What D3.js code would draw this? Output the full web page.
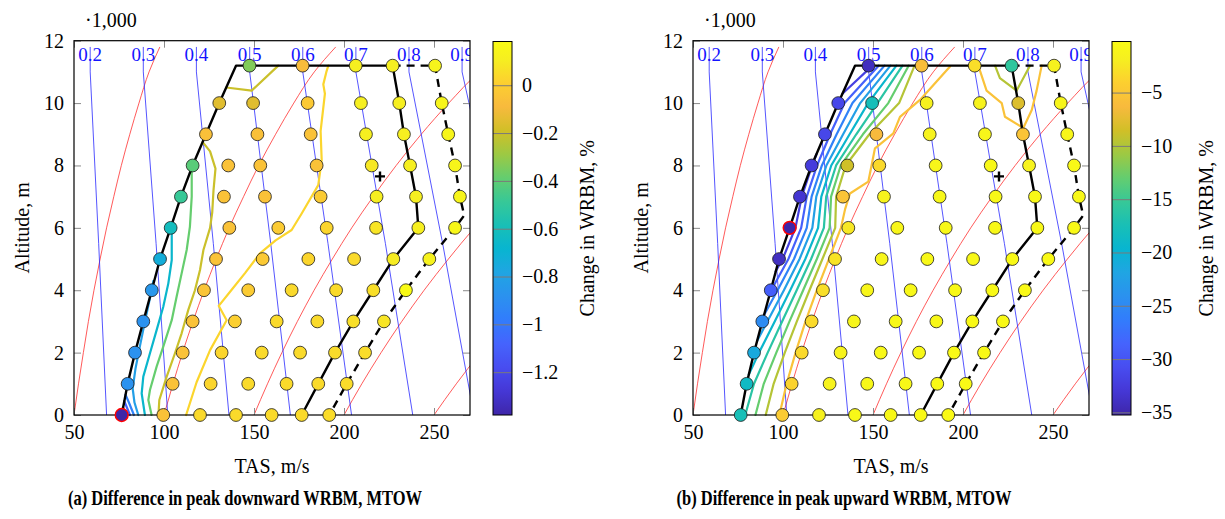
<!DOCTYPE html>
<html>
<head>
<meta charset="utf-8">
<script src="https://cdn.jsdelivr.net/npm/d3@7"></script>
<style>
  body { margin: 0; background: #fff; }
  svg text { font-family: "Liberation Serif", "Times New Roman", serif; }
</style>
</head>
<body>
<svg id="chart" width="1225" height="519"></svg>
<script>
// ---------- flight-envelope grid (TAS in m/s, altitude in km) ----------
const altitudes = [0, 1, 2, 3, 4, 5, 6, 7, 8, 9, 10, 11.2];
const gridTAS = [
  [76.5, 99.6, 120, 140, 159.8, 176.5, 191.8],
  [79.8, 104.8, 125.9, 146.8, 168.1, 185.7, 201.5],
  [83.9, 110.4, 132, 154.3, 175.6, 195, 211.7],
  [88.5, 115.9, 139.4, 162.6, 185.2, 205.2, 222.2],
  [93.2, 122.2, 146.8, 170.9, 195.6, 216.3, 234.4],
  [97.8, 128.9, 154.8, 180.2, 205.6, 227.4, 247.4],
  [103.7, 136.3, 163.5, 190.4, 217.8, 241.3, 261.7],
  [109.4, 133.3, 156.1, 187, 218.1, 240, 264.4],
  [115.9, 135.7, 153.5, 184.8, 215.4, 236.7, 261.7],
  [123.3, 151.9, 181.5, 212.2, 233.3, 257.9],
  [130.7, 149.5, 179.8, 209.4, 230.7, 254.3],
  [147.5, 177, 206.5, 227, 250.6]
];

// change in peak downward WRBM, % (same grid order)
const downChange = [
  [-1.377, -0.05, 0.04, 0.045, 0.045, 0.045, 0.05],
  [-0.88, -0.05, 0.03, 0.045, 0.045, 0.045, 0.05],
  [-0.88, -0.05, 0.03, 0.045, 0.045, 0.05, 0.05],
  [-0.88, -0.05, 0.01, 0.045, 0.045, 0.06, 0.08],
  [-0.85, -0.04, -0.01, 0.04, 0.045, 0.06, 0.185],
  [-0.73, -0.05, -0.02, 0.03, 0.045, 0.1, 0.13],
  [-0.61, -0.05, -0.01, 0.03, 0.08, 0.11, 0.16],
  [-0.485, -0.05, -0.05, -0.01, 0.11, 0.11, 0.15],
  [-0.41, -0.05, -0.05, -0.05, 0.09, 0.11, 0.15],
  [-0.06, -0.06, -0.05, 0.11, 0.11, 0.15],
  [-0.15, -0.15, -0.02, 0.11, 0.11, 0.15],
  [-0.335, -0.08, 0.11, 0.11, 0.14]
];

// change in peak upward WRBM, %
const upChange = [
  [-17.5, -4.5, -1.5, -0.6, -0.5, -0.4, -0.4],
  [-18.5, -3.8, -1.3, -0.6, -0.5, -0.4, -0.4],
  [-21.2, -3.4, -1.2, -0.6, -0.5, -0.4, -0.4],
  [-24.7, -3.3, -1.0, -0.6, -0.5, -0.4, -0.4],
  [-29.0, -3.0, -0.9, -0.6, -0.5, -0.4, -0.4],
  [-34.0, -2.7, -0.9, -0.6, -0.5, -0.4, -0.4],
  [-35.2, -2.4, -0.8, -0.6, -0.5, -0.5, -0.4],
  [-33.2, -5.2, -1.3, -0.6, -0.5, -0.5, -0.5],
  [-32.4, -8.6, -3.4, -1.0, -0.6, -1.3, -0.5],
  [-31.3, -6.3, -1.3, -1.0, -5.2, -0.8],
  [-31.3, -17.7, -1.5, -1.2, -7.9, -1.0],
  [-34.1, -6.0, -3.0, -15.7, -1.5]
];

// envelope boundaries [TAS, altitude]
const envelopeSolid = [[76.5,0],[79.8,1],[83.9,2],[88.5,3],[93.2,4],[97.8,5],[103.7,6],[109.4,7],[115.9,8],[123.3,9],[130.7,10],[140,11.2],[227,11.2],[230.7,10],[233.3,9],[236.7,8],[240,7],[241.3,6],[227.4,5],[216.3,4],[205.2,3],[195,2],[185.7,1],[176.5,0]];
const envelopeDashed = [[227,11.2],[250.6,11.2],[254.3,10],[257.9,9],[261.7,8],[264.4,7],[266.8,6.4],[261.7,6],[247.4,5],[234.4,4],[222.2,3],[211.7,2],[201.5,1],[191.8,0]];
const referencePoint = [220, 7.65];

// constant-Mach guide lines
const machNumbers = [0.2, 0.3, 0.4, 0.5, 0.6, 0.7, 0.8, 0.9];
const machAlt = [0, 5.5, 11, 11.8];
const machTAS = [
  [68.1, 63.7, 59.0, 59.0],
  [102.1, 95.6, 88.5, 88.5],
  [136.1, 127.4, 118.0, 118.0],
  [170.2, 159.3, 147.6, 147.6],
  [204.2, 191.1, 177.1, 177.1],
  [238.2, 223.0, 206.6, 206.6],
  [272.2, 254.8, 236.1, 236.1],
  [306.3, 286.7, 265.6, 265.6]
];
const machLabelAlt = 11.55;

// constant-EAS guide lines
const easAlt = [0, 1, 2, 3, 4, 5, 6, 7, 8, 9, 10, 11, 11.8];
const easTAS = [
  [50, 52.5, 55.2, 58.0, 61.1, 64.5, 68.1, 72.1, 76.3, 81.0, 86.1, 91.7, 97.7],
  [100, 105.0, 110.3, 116.1, 122.3, 129.0, 136.2, 144.2, 152.6, 162.0, 172.1, 183.5, 195.4],
  [150, 157.5, 165.5, 174.1, 183.4, 193.5, 204.3, 216.2, 229.0, 242.9, 258.2, 275.2, 293.1],
  [200, 209.9, 220.6, 232.1, 244.5, 258.0, 272.4, 288.3, 305.3, 323.9, 344.2, 366.9, 390.8],
  [250, 262.4, 275.8, 290.2, 305.7, 322.5, 340.6, 360.4, 381.6, 404.9, 430.3, 458.7, 488.5]
];

// iso-lines of the change, [level, [[TAS, alt], ...]]
const downContours = [
  [-1.235, [[77.2,0.25],[78.4,0]]],
  [-1.093, [[77.9,0.45],[81.1,0]]],
  [-0.951, [[78.6,0.65],[80.5,0.4],[83.3,0]]],
  [-0.809, [[94.1,4.3],[92.2,3.75],[89.4,3.0],[86.6,2.2],[84.2,1.5],[82.6,0.85],[83.6,0.4],[85.7,0]]],
  [-0.667, [[104.3,5.85],[104.3,4.97],[102.4,4.22],[99.6,3.47],[95.9,2.72],[92.2,1.98],[88.5,1.23],[87.6,0.69],[89.4,0]]],
  [-0.383, [[115.4,7.85],[115.4,7.0],[114.4,6.04],[112.6,5.29],[109.8,4.54],[107,3.79],[104.3,3.04],[99.6,2.19],[95.9,1.55],[92.2,0.8],[91.3,0.48],[93.1,0]]],
  [-0.2, [[121.5,8.75],[125.6,8.45],[128.6,7.9],[127.5,7.2],[126.8,6.5],[125.6,6.0],[121.9,5.29],[120,4.65],[117.2,4.0],[113.5,3.37],[109.8,2.62],[106.1,1.98],[101.5,1.23],[97.4,0.48],[96.9,0]]],
  [-0.2, [[134.6,10.5],[148.7,10.4],[163.5,11.2]]],
  [0.03, [[112.3,0],[118.1,1.05],[125.6,2.08],[134.8,3.04],[130.4,3.5],[136.7,3.95],[145,4.55],[153.3,5.18],[162,5.6],[170.9,5.93],[176.5,6.46],[185.7,7.37],[187.6,8.17],[187,9.1],[189.4,10.3],[188.5,10.6],[190.2,11.0],[191.3,11.2]]]
];

const upContours = [
  [-32.0, [[95.9,4.6],[99.8,5],[106.9,6],[110.4,7],[116.2,8],[118.6,8.36]]],
  [-32.0, [[133,10.3],[149.7,11.2]]],
  [-28.8, [[93,3.95],[103,5],[110.1,6],[113.2,7],[118.9,8],[126.2,9],[134.2,10],[153.1,11.2]]],
  [-25.6, [[89.4,3.2],[97,4],[106.1,5],[113.2,6],[115.9,7],[121.6,8],[129.8,9],[138.6,10],[156.4,11.2]]],
  [-22.5, [[85.6,2.37],[91.3,3],[100.5,4],[109.2,5],[116.3,6],[118.5,7],[124.1,8],[133.4,9],[142.9,10],[159.7,11.2]]],
  [-19.3, [[81,1.3],[86.7,2],[95.4,3],[104,4],[112.4,5],[119.5,6],[121.3,7],[126.8,8],[137,9],[147.3,10],[163,11.2]]],
  [-16.1, [[79,0],[83.9,1],[91.5,2],[99.5,3],[107.6,4],[115.6,5],[122.7,6],[124,7],[129.5,8],[140.7,9],[152.5,10],[166.4,11.2]]],
  [-12.9, [[84.7,0],[89.3,1],[96.3,2],[103.6,3],[111.2,4],[118.8,5],[125.9,6],[126.7,7],[132.1,8],[144.4,9],[158.5,10],[169.8,11.2]]],
  [-9.7, [[90.4,0],[94.8,1],[101,2],[107.7,3],[114.7,4],[121.9,5],[129,6],[129.5,7],[134.8,8],[148,9],[164.5,10],[173.1,11.2]]],
  [-9.7, [[217.8,11.2],[220.5,10.8],[229.8,10.4],[237.2,11.2]]],
  [-5.5, [[98,0],[102,1],[107,2],[112.5,3],[118.8,4],[125.5,5],[132.2,6],[134.5,6.6],[137.2,7.1],[147.4,7.48],[151.1,8.55],[161.3,9.03],[165,9.56],[176.1,10.1],[192.8,11.17]]],
  [-5.5, [[208.5,11.2],[213.1,10.4],[221.5,10.0],[223.3,9.56],[233.5,9.2],[238.2,9.78],[240.9,10.4],[243.7,11.2]]]
];

// colour-bar ranges and ticks
const downRange = [-1.377, 0.185];
const upRange = [-35.2, -0.16];
const downBarTicks = [0, -0.2, -0.4, -0.6, -0.8, -1, -1.2];
const upBarTicks = [-5, -10, -15, -20, -25, -30, -35];
const xTicks = [50, 100, 150, 200, 250];
const yTicks = [0, 2, 4, 6, 8, 10, 12];

// parula colour map (sampled)
const parulaIdx = [0, 4, 8, 12, 16, 20, 24, 28, 32, 36, 40, 44, 48, 52, 56, 60, 63];
const parulaRGB = [
  [0.2422,0.1504,0.6603],[0.2706,0.2147,0.8364],[0.2813,0.3006,0.9414],[0.2699,0.3892,0.9906],
  [0.1963,0.4847,0.9892],[0.1687,0.5703,0.9359],[0.1248,0.6459,0.8883],[0.0297,0.7082,0.8163],
  [0.0964,0.7500,0.7120],[0.2161,0.7843,0.5923],[0.3909,0.8029,0.4354],[0.6174,0.7876,0.2612],
  [0.8203,0.7498,0.1535],[0.9728,0.7298,0.2394],[0.9892,0.8136,0.1885],[0.9628,0.9373,0.1265],
  [0.9769,0.9839,0.0805]
];
const parula = d3.scaleLinear()
  .domain(parulaIdx.map(i => i / 63))
  .range(parulaRGB.map(c => d3.rgb(c[0] * 255, c[1] * 255, c[2] * 255)))
  .interpolate(d3.interpolateRgb)
  .clamp(true);

const svg = d3.select("#chart");
const defs = svg.append("defs");
const y = d3.scaleLinear().domain([0, 12]).range([415, 40.7]);
const minus = v => String(v).replace("-", "\u2212");

const panels = [
  { key: "a", xr: [74, 470], values: downChange, contours: downContours, range: downRange,
    barX: 493, barTicks: downBarTicks, title: "(a) Difference in peak downward WRBM, MTOW",
    titleX: 245, titleW: 354 },
  { key: "b", xr: [693, 1089], values: upChange, contours: upContours, range: upRange,
    barX: 1112, barTicks: upBarTicks, title: "(b) Difference in peak upward WRBM, MTOW",
    titleX: 844, titleW: 335 }
];

panels.forEach(p => {
  const x = d3.scaleLinear().domain([50, 270]).range(p.xr);
  const norm = d3.scaleLinear().domain(p.range).range([0, 1]);
  const colour = v => parula(norm(v));
  const g = svg.append("g");
  const clipId = "clip-" + p.key;
  defs.append("clipPath").attr("id", clipId).append("rect")
    .attr("x", p.xr[0]).attr("y", y(12)).attr("width", p.xr[1] - p.xr[0]).attr("height", y(0) - y(12));

  const line = d3.line().x(d => x(d[0])).y(d => y(d[1]));
  const smooth = d3.line().x(d => x(d[0])).y(d => y(d[1])).curve(d3.curveMonotoneY);
  const guides = g.append("g").attr("clip-path", `url(#${clipId})`);

  // constant EAS lines
  easTAS.forEach(row => {
    guides.append("path").datum(row.map((t, i) => [t, easAlt[i]]))
      .attr("d", smooth).attr("fill", "none")
      .attr("stroke", "#ff3030").attr("stroke-width", 0.8);
  });
  // constant Mach lines with labels
  machTAS.forEach((row, i) => {
    guides.append("path").datum(row.map((t, j) => [t, machAlt[j]]))
      .attr("d", line).attr("fill", "none")
      .attr("stroke", "#2a2aff").attr("stroke-width", 0.8);
    guides.append("text")
      .attr("x", x(row[2])).attr("y", y(machLabelAlt))
      .attr("text-anchor", "middle").attr("dominant-baseline", "central")
      .attr("font-size", 19).attr("fill", "#1414ff")
      .text(machNumbers[i].toFixed(1));
  });

  // iso-lines
  g.append("g").selectAll("path").data(p.contours).join("path")
    .attr("d", d => line(d[1])).attr("fill", "none")
    .attr("stroke", d => colour(d[0])).attr("stroke-width", 2.2)
    .attr("stroke-linejoin", "round").attr("stroke-linecap", "round");

  // envelope
  g.append("path").datum(envelopeSolid).attr("d", line).attr("fill", "none")
    .attr("stroke", "#000").attr("stroke-width", 2.4).attr("stroke-linejoin", "round");
  g.append("path").datum(envelopeDashed).attr("d", line).attr("fill", "none")
    .attr("stroke", "#000").attr("stroke-width", 2.4).attr("stroke-dasharray", "8,6");

  // frame and ticks
  const axes = g.append("g");
  const tickStyle = sel => {
    sel.select(".domain").remove();
    sel.selectAll(".tick line").attr("stroke", "#8a8a8a").attr("stroke-width", 1);
    sel.selectAll("text").attr("font-size", 20).attr("fill", "#000")
      .attr("font-family", "Liberation Serif, Times New Roman, serif");
  };
  axes.append("g").attr("transform", `translate(0,${y(0)})`)
    .call(d3.axisBottom(x).tickValues(xTicks).tickSize(-7).tickPadding(10).tickFormat(d3.format("d")))
    .call(tickStyle);
  axes.append("g").attr("transform", `translate(0,${y(12)})`)
    .call(d3.axisTop(x).tickValues(xTicks).tickSize(-7).tickFormat(""))
    .call(tickStyle);
  axes.append("g").attr("transform", `translate(${p.xr[0]},0)`)
    .call(d3.axisLeft(y).tickValues(yTicks).tickSize(-7).tickPadding(10).tickFormat(d3.format("d")))
    .call(tickStyle);
  axes.append("g").attr("transform", `translate(${p.xr[1]},0)`)
    .call(d3.axisRight(y).tickValues(yTicks).tickSize(-7).tickFormat(""))
    .call(tickStyle);
  axes.append("rect").attr("x", p.xr[0]).attr("y", y(12))
    .attr("width", p.xr[1] - p.xr[0]).attr("height", y(0) - y(12))
    .attr("fill", "none").attr("stroke", "#000").attr("stroke-width", 1.2);

  // grid points coloured by the change
  const pts = [];
  gridTAS.forEach((row, r) => row.forEach((t, c) => pts.push({ t, h: altitudes[r], v: p.values[r][c] })));
  const vMin = d3.min(pts, d => d.v);
  g.append("g").selectAll("circle").data(pts).join("circle")
    .attr("cx", d => x(d.t)).attr("cy", d => y(d.h)).attr("r", 6.4)
    .attr("fill", d => colour(d.v))
    .attr("stroke", d => d.v === vMin ? "#ff0000" : "#1a1a1a")
    .attr("stroke-width", d => d.v === vMin ? 1.5 : 0.8);

  // reference point
  const rp = [x(referencePoint[0]), y(referencePoint[1])];
  g.append("path").attr("d", `M${rp[0] - 5},${rp[1]}H${rp[0] + 5}M${rp[0]},${rp[1] - 5}V${rp[1] + 5}`)
    .attr("stroke", "#000").attr("stroke-width", 2.4);

  // axis titles
  g.append("text").attr("x", p.xr[0] + 11).attr("y", 26.5).attr("font-size", 20).text("\u00b71,000");
  g.append("text").attr("x", (p.xr[0] + p.xr[1]) / 2).attr("y", 473)
    .attr("text-anchor", "middle").attr("font-size", 20).text("TAS, m/s");
  g.append("text").attr("transform", `translate(${p.xr[0] - 45},${(y(0) + y(12)) / 2}) rotate(-90)`)
    .attr("text-anchor", "middle").attr("font-size", 20).text("Altitude, m");
  g.append("text").attr("x", p.titleX).attr("y", 505).attr("text-anchor", "middle")
    .attr("font-size", 21).attr("font-weight", "bold")
    .attr("textLength", p.titleW).attr("lengthAdjust", "spacingAndGlyphs").text(p.title);

  // colour bar
  const bar = d3.scaleLinear().domain(p.range).range([415, 41.5]);
  const gradId = "grad-" + p.key;
  const grad = defs.append("linearGradient").attr("id", gradId)
    .attr("x1", 0).attr("y1", 1).attr("x2", 0).attr("y2", 0);
  d3.range(0, 1.0001, 1 / 63).forEach(t => {
    grad.append("stop").attr("offset", t).attr("stop-color", parula(t));
  });
  const bw = 19;
  g.append("rect").attr("x", p.barX).attr("y", bar(p.range[1])).attr("width", bw)
    .attr("height", bar(p.range[0]) - bar(p.range[1])).attr("fill", `url(#${gradId})`);
  p.barTicks.forEach(v => {
    g.append("line").attr("x1", p.barX).attr("x2", p.barX + bw).attr("y1", bar(v)).attr("y2", bar(v))
      .attr("stroke", "#7a7a7a").attr("stroke-width", 1);
    g.append("text").attr("x", p.barX + 29).attr("y", bar(v)).attr("dy", "0.32em")
      .attr("font-size", 20).text(minus(v));
  });
  g.append("rect").attr("x", p.barX).attr("y", bar(p.range[1])).attr("width", bw)
    .attr("height", bar(p.range[0]) - bar(p.range[1])).attr("fill", "none")
    .attr("stroke", "#000").attr("stroke-width", 1);
  g.append("text").attr("transform", `translate(${p.barX + 101},${(bar(p.range[0]) + bar(p.range[1])) / 2}) rotate(-90)`)
    .attr("text-anchor", "middle").attr("font-size", 20).text("Change in WRBM, %");
});
</script>
</body>
</html>
